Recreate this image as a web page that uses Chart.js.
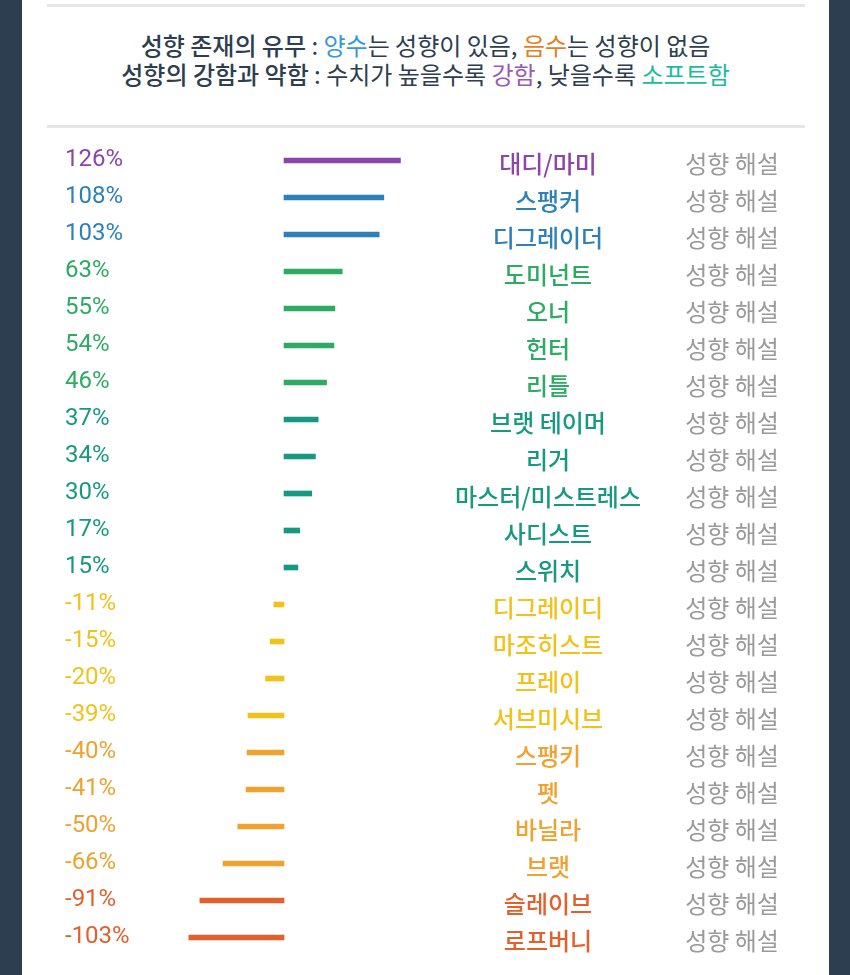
<!DOCTYPE html>
<html>
<head>
  <meta charset="UTF-8">
  <title>성향 차트</title>
  <style>
    body {
      margin: 0;
      width: 850px;
      height: 975px;
      background: #2c3e50;
      overflow: hidden;
      font-family: "Noto Sans CJK KR", "Noto Sans", sans-serif;
    }
    #card {
      position: absolute;
      left: 22px;
      top: 0;
      width: 807px;
      height: 975px;
      background: #fff;
    }
    .rule {
      position: absolute;
      left: 47px;
      width: 758px;
      height: 3px;
      background: #e6e6e6;
    }
    #header {
      position: absolute;
      left: 22px;
      width: 807px;
      top: 30px;
      text-align: center;
      font-size: 24px;
      line-height: 29px;
      color: #2c3e50;
    }
    #header b { font-weight: 500; }
    #chart {
      position: absolute;
      left: 0;
      top: 0;
    }
  </style>
  <script src="https://cdn.jsdelivr.net/npm/chart.js"></script>
</head>
<body>
  <div id="card"></div>
  <div class="rule" style="top:4px"></div>
  <div class="rule" style="top:125px"></div>
  <div id="header">
    <div><b>성향 존재의 유무</b> : <span style="color:#3498db">양수</span>는 성향이 있음, <span style="color:#e67e22">음수</span>는 성향이 없음</div>
    <div><b>성향의 강함과 약함</b> : 수치가 높을수록 <span style="color:#9b59b6">강함</span>, 낮을수록 <span style="color:#1abc9c">소프트함</span></div>
  </div>
  <canvas id="chart" width="850" height="975"></canvas>
  <script>
    const names = ['대디/마미', '스팽커', '디그레이더', '도미넌트', '오너', '헌터', '리틀', '브랫 테이머',
      '리거', '마스터/미스트레스', '사디스트', '스위치', '디그레이디', '마조히스트', '프레이', '서브미시브',
      '스팽키', '펫', '바닐라', '브랫', '슬레이브', '로프버니'];
    const values = [126, 108, 103, 63, 55, 54, 46, 37, 34, 30, 17, 15, -11, -15, -20, -39, -40, -41, -50, -66, -91, -103];
    const noteText = '성향 해설';

    // one colour per row
    const colors = ['#8e44ad', '#2e80b9', '#2e80b9', '#2eab62', '#2eab62', '#2eab62', '#2eab62',
      '#17997f', '#17997f', '#17997f', '#17997f', '#17997f', '#f1c21b', '#f1c21b', '#f1c21b', '#f1c21b',
      '#eea230', '#eea230', '#eea230', '#eea230', '#e2602c', '#e2602c'];

    const rowText = {
      id: 'rowText',
      afterDraw(chart) {
        const ctx = chart.ctx;
        const y = chart.scales.y;
        ctx.save();
        ctx.textBaseline = 'middle';
        names.forEach((name, i) => {
          const py = y.getPixelForValue(i);
          ctx.fillStyle = colors[i];
          ctx.textAlign = 'left';
          ctx.font = '400 24px Roboto';
          ctx.fillText(values[i] + '%', 65, py - 1);
          ctx.textAlign = 'center';
          ctx.font = '500 24px "Noto Sans CJK KR"';
          ctx.fillText(name, 548, py + 3);
          ctx.fillStyle = '#9a9a9a';
          ctx.font = '400 24px "Noto Sans CJK KR"';
          ctx.fillText(noteText, 732, py + 3);
        });
        ctx.restore();
      }
    };

    new Chart(document.getElementById('chart').getContext('2d'), {
      type: 'bar',
      data: {
        labels: names,
        datasets: [{
          data: values,
          backgroundColor: colors,
          barThickness: 5,
          borderWidth: 0
        }]
      },
      options: {
        indexAxis: 'y',
        responsive: false,
        animation: false,
        layout: {
          padding: { top: 142, bottom: 19, left: 162, right: 444 }
        },
        scales: {
          x: { display: false, min: -132, max: 132 },
          y: { display: false }
        },
        plugins: {
          legend: { display: false },
          tooltip: { enabled: false }
        }
      },
      plugins: [rowText]
    });
  </script>
</body>
</html>
